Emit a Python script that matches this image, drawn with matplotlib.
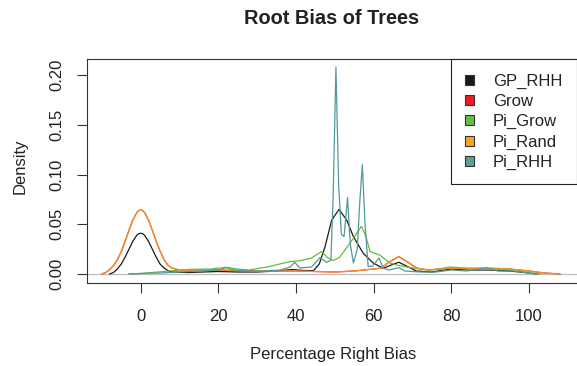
import matplotlib.pyplot as plt
from matplotlib.patches import Patch

plt.rcParams['font.family'] = ['Liberation Sans', 'DejaVu Sans']

# density curves (x = percentage right bias, y = density)
gp_rhh_x = [-8, -7, -6, -5, -4, -3, -2, -1, -0.5, 0, 0.5, 1, 2, 3, 4, 5, 6, 7, 8, 12, 20,
            25, 30, 35, 39, 42, 44.5, 46, 47.5, 49.2, 51.1, 53.1, 54.8, 57.3, 59.9, 62.5,
            64.5, 66.5, 68.5, 71, 75, 80, 85, 90, 95, 99, 102]
gp_rhh_y = [0, 0.0015, 0.005, 0.010, 0.017, 0.025, 0.033, 0.039, 0.0405, 0.041, 0.0405,
            0.039, 0.033, 0.025, 0.017, 0.010, 0.006, 0.0035, 0.002, 0.0015, 0.0025,
            0.002, 0.002, 0.003, 0.0045, 0.0035, 0.0034, 0.01, 0.0275, 0.054, 0.065, 0.054,
            0.0376, 0.021, 0.011, 0.0057, 0.009, 0.0118, 0.008, 0.003, 0.002, 0.005, 0.004,
            0.004, 0.003, 0.0015, 0]

pi_rand_x = [-10, -9, -8, -7, -6, -5, -4, -3, -2, -1, -0.5, 0, 0.5, 1, 2, 3, 4, 5, 6, 7, 8,
             10, 15, 20, 30, 40, 45, 50, 55, 60, 62, 64, 66.5, 69, 71, 74, 80, 85, 90, 95,
             100, 104, 108]
pi_rand_y = [0, 0.0015, 0.0044, 0.0085, 0.0142, 0.0225, 0.0329, 0.0441, 0.0544, 0.0618,
             0.0637, 0.0644, 0.0637, 0.0618, 0.0544, 0.0441, 0.033, 0.023, 0.0145, 0.009,
             0.006, 0.004, 0.004, 0.004, 0.003, 0.003, 0.0025, 0.002, 0.003, 0.005, 0.006,
             0.012, 0.0175, 0.0115, 0.006, 0.004, 0.006, 0.005, 0.005, 0.005, 0.003, 0.001, 0]

# Grow sits under Pi_Rand (same curve)
grow_x = pi_rand_x
grow_y = pi_rand_y

pi_grow_x = [-3, 0, 3, 6, 8.4, 12.7, 18, 22, 25, 28, 33, 38.4, 41, 44, 46.6, 48, 49.6, 51.3,
             53.9, 55.5, 56.9, 58, 59.1, 61.6, 64.2, 66, 69, 72, 75, 79.7, 84, 90, 95, 98,
             100, 102]
pi_grow_y = [0, 0.0005, 0.0015, 0.0025, 0.0034, 0.0047, 0.005, 0.0067, 0.005, 0.004, 0.0074,
             0.0124, 0.0134, 0.016, 0.0225, 0.017, 0.0134, 0.017, 0.031, 0.04, 0.048, 0.038,
             0.0225, 0.019, 0.011, 0.009, 0.0067, 0.005, 0.004, 0.007, 0.006, 0.006, 0.005,
             0.003, 0.001, 0]

pi_rhh_x = [-3, 0, 5, 10, 15, 20, 22, 24, 28, 32, 36, 38.5, 39.7, 41, 44, 46.2, 47.9, 49.0,
            49.6, 50.3, 51.0, 51.7, 52.4, 53.3, 54.0, 54.8, 55.8, 56.4, 57.1, 57.8, 58.6,
            59.8, 61.4, 62.5, 64, 66.6, 68, 72, 76, 80, 84, 89, 92, 96, 100, 103]
pi_rhh_y = [0, 0.0005, 0.001, 0.002, 0.003, 0.004, 0.0065, 0.004, 0.003, 0.003, 0.004, 0.007,
            0.0118, 0.006, 0.007, 0.0165, 0.0117, 0.014, 0.08, 0.208, 0.09, 0.04, 0.0376,
            0.077, 0.03, 0.011, 0.025, 0.07, 0.110, 0.05, 0.0074, 0.008, 0.016, 0.0057,
            0.004, 0.0064, 0.003, 0.002, 0.002, 0.004, 0.003, 0.0064, 0.003, 0.003, 0.001, 0]

labels = ['GP_RHH', 'Grow', 'Pi_Grow', 'Pi_Rand', 'Pi_RHH']
colors = ['#1a1a1a', '#e8202a', '#66bb3a', '#f7931e', '#52989c']
legend_colors = ['#1a1a1a', '#ec1c24', '#66bf40', '#fba51c', '#5b9ea0']

fig = plt.figure(figsize=(5.77, 3.66), dpi=100)
ax = fig.add_axes([86.7 / 577, 83 / 366, (577 - 86.7) / 577, 224 / 366])

ax.axhline(0, color='#bebebe', lw=0.9, zorder=1)
series = [(gp_rhh_x, gp_rhh_y), (grow_x, grow_y), (pi_grow_x, pi_grow_y),
          (pi_rand_x, pi_rand_y), (pi_rhh_x, pi_rhh_y)]
for (xs, ys), c in zip(series, colors):
    ax.plot(xs, ys, color=c, lw=0.9, zorder=2)

ax.set_xlim(-13.9, 112.4)
ax.set_ylim(-0.00906, 0.2162)
ax.set_xticks([0, 20, 40, 60, 80, 100])
ax.set_yticks([0, 0.05, 0.10, 0.15, 0.20])
ax.set_yticklabels(['0.00', '0.05', '0.10', '0.15', '0.20'], rotation=90, va='center')
ax.tick_params(axis='both', length=7.5, width=0.8, color='#333333', labelsize=12,
               labelcolor='#222222')
ax.tick_params(axis='x', pad=11.5)
ax.tick_params(axis='y', pad=8.5)
for s in ['left', 'bottom', 'top']:
    ax.spines[s].set_color('#333333')
    ax.spines[s].set_linewidth(0.8)
ax.spines['right'].set_visible(False)

fig.text(331.5 / 577, 1 - 18 / 366, 'Root Bias of Trees', ha='center', va='center',
         fontsize=14.4, fontweight='bold', color='#222222')
fig.text(333 / 577, 1 - 355 / 366, 'Percentage Right Bias', ha='center', va='center',
         fontsize=12, color='#222222')
fig.text(20 / 577, 1 - 166 / 366, 'Density', ha='center', va='center', rotation=90,
         fontsize=12, color='#222222')

handles = [Patch(facecolor=c, edgecolor='#333333', lw=0.8) for c in legend_colors]
leg = fig.legend(handles, labels, loc='upper right', bbox_to_anchor=(576.5 / 577, 1 - 59.5 / 366),
                 borderaxespad=0, fontsize=12, handlelength=0.54, handleheight=0.54,
                 handletextpad=1.15, labelspacing=0.31, borderpad=0.85, fancybox=False,
                 framealpha=1, edgecolor='#222222')
leg.get_frame().set_linewidth(0.8)
for t in leg.get_texts():
    t.set_color('#222222')

plt.savefig('out.png', dpi=100)
